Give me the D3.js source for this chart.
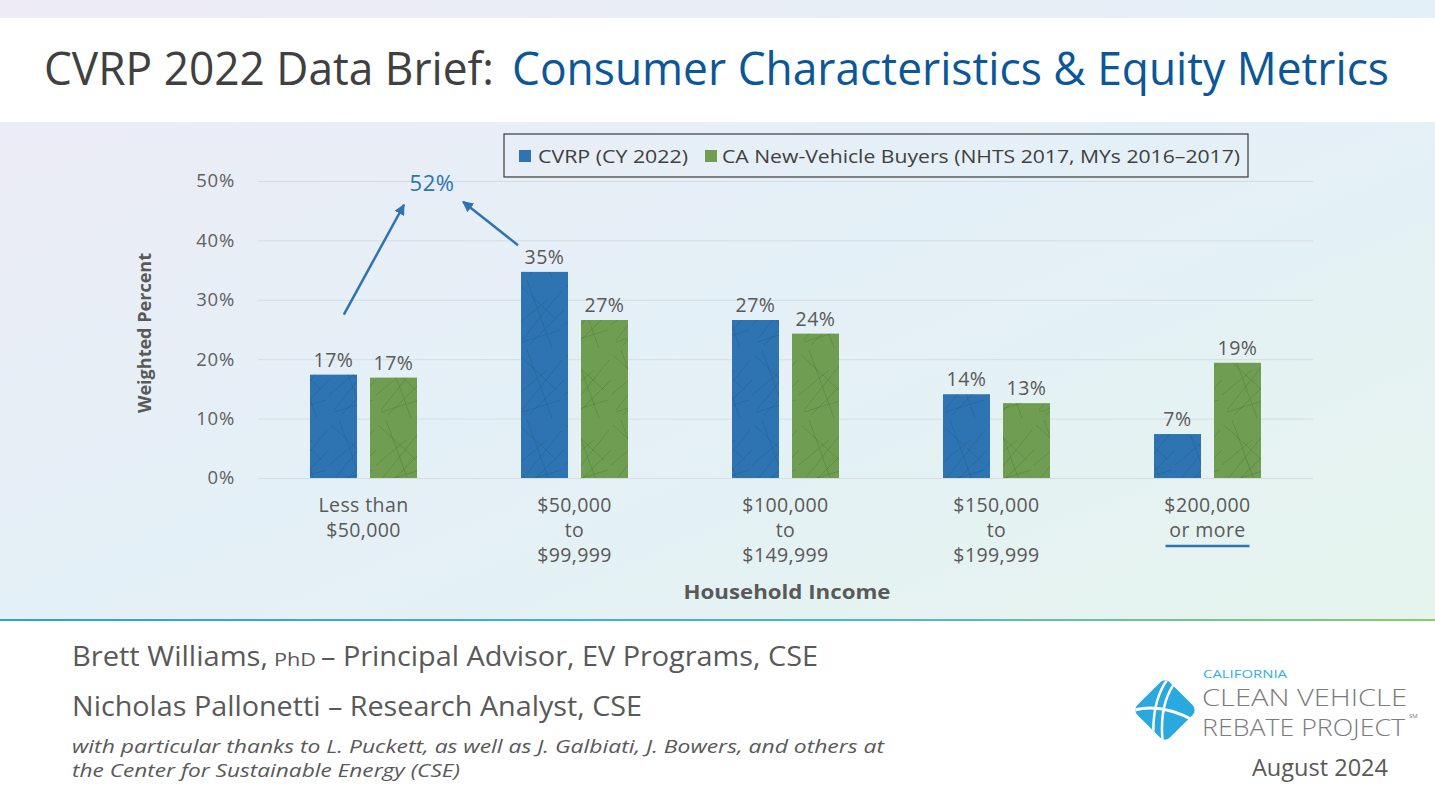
<!DOCTYPE html>
<html><head><meta charset="utf-8">
<script src="https://cdn.jsdelivr.net/npm/d3@7"></script>
<style>html,body{margin:0;padding:0;background:#fff;overflow:hidden}svg{display:block}</style>
</head><body><svg id="c" width="1435" height="806"></svg>
<script>
// ---------- data ----------
const categories = ["Less than\n$50,000", "$50,000\nto\n$99,999", "$100,000\nto\n$149,999", "$150,000\nto\n$199,999", "$200,000\nor more"];
const seriesNames = ["CVRP (CY 2022)", "CA New-Vehicle Buyers (NHTS 2017, MYs 2016–2017)"];
const cvrpValues = [17.4, 34.7, 26.6, 14.1, 7.4];
const nhtsValues = [16.9, 26.6, 24.3, 12.6, 19.4];
const yTickValues = [0, 10, 20, 30, 40, 50];
const titleParts = ["CVRP 2022 Data Brief:", "Consumer Characteristics & Equity Metrics"];
const yAxisTitle = "Weighted Percent";
const xAxisTitle = "Household Income";

// ---------- styles ----------
const colors = ["#2e74b2", "#6f9e53"];
const grey = "#595959";
const font = "'Open Sans', sans-serif";

const svg = d3.select("#c");
const defs = svg.append("defs");

// background gradient
const bg = defs.append("linearGradient").attr("id", "bg").attr("x1", "0").attr("y1", "0").attr("x2", "1").attr("y2", "1");
bg.append("stop").attr("offset", "0").attr("stop-color", "#eeebf6");
bg.append("stop").attr("offset", "0.5").attr("stop-color", "#e4f0f7");
bg.append("stop").attr("offset", "1").attr("stop-color", "#e6f4ee");
const sep = defs.append("linearGradient").attr("id", "sep");
sep.append("stop").attr("offset", "0").attr("stop-color", "#27a2dc");
sep.append("stop").attr("offset", "0.6").attr("stop-color", "#4cb8c8");
sep.append("stop").attr("offset", "1").attr("stop-color", "#8ccb6a");

// texture patterns for bars
["b", "g"].forEach((k, i) => {
  const p = defs.append("pattern").attr("id", "tex" + k).attr("patternUnits", "userSpaceOnUse")
    .attr("width", 47).attr("height", 70);
  const c = i === 0 ? "#1c4f80" : "#3f6b2c";
  [[2, 5, 40, 40], [45, 10, 5, 60], [0, 45, 30, 20], [10, 0, 35, 68], [47, 30, 12, 65], [5, 62, 44, 50]].forEach(l => {
    p.append("line").attr("x1", l[0]).attr("y1", l[1]).attr("x2", l[2]).attr("y2", l[3])
      .attr("stroke", c).attr("stroke-width", 1).attr("opacity", 0.35);
  });
});

// arrow marker
defs.append("marker").attr("id", "arr").attr("markerUnits", "userSpaceOnUse")
  .attr("viewBox", "0 0 10 10").attr("refX", 9).attr("refY", 5)
  .attr("markerWidth", 11).attr("markerHeight", 11).attr("orient", "auto")
  .append("path").attr("d", "M0,0 L10,5 L0,10 Z").attr("fill", colors[0]);

// ---------- background panels ----------
svg.append("rect").attr("x", 0).attr("y", 0).attr("width", 1435).attr("height", 620).attr("fill", "url(#bg)");
svg.append("rect").attr("x", 0).attr("y", 18).attr("width", 1435).attr("height", 104).attr("fill", "#ffffff");
svg.append("rect").attr("x", 0).attr("y", 621).attr("width", 1435).attr("height", 185).attr("fill", "#ffffff");
svg.append("rect").attr("x", 0).attr("y", 619).attr("width", 1435).attr("height", 2).attr("fill", "url(#sep)");

// ---------- title ----------
svg.append("text").attr("x", 44).attr("y", 85).attr("font-family", font).attr("font-size", 45)
  .attr("fill", "#404040").attr("textLength", 450).attr("lengthAdjust", "spacingAndGlyphs").text(titleParts[0]);
svg.append("text").attr("x", 512).attr("y", 85).attr("font-family", font).attr("font-size", 45)
  .attr("fill", "#0b5797").attr("textLength", 877).attr("lengthAdjust", "spacingAndGlyphs").text(titleParts[1]);

// ---------- scales ----------
const x0 = d3.scaleBand().domain(categories).range([258, 1313]).padding(0);
const x1 = d3.scaleBand().domain([0, 1]).range([52, 159]).paddingInner(13 / 60);
const y = d3.scaleLinear().domain([0, 50]).range([478, 181]);

// gridlines
const grid = svg.append("g").attr("transform", "translate(258,0)")
  .call(d3.axisLeft(y).tickValues(yTickValues).tickSize(-(1313 - 258)).tickFormat(""));
grid.select(".domain").remove();
grid.selectAll("line").attr("stroke", "#d5dde3").attr("stroke-width", 1);

// y axis labels
const ya = svg.append("g").attr("transform", "translate(258,0)")
  .call(d3.axisLeft(y).tickValues(yTickValues).tickSize(0).tickPadding(23).tickFormat(d => d + "%"));
ya.select(".domain").remove();
ya.selectAll("text").attr("font-family", font).attr("font-size", 18.5).attr("letter-spacing", 0.8).attr("fill", "#606060");

svg.append("text").attr("transform", "translate(151,333) rotate(-90)").attr("text-anchor", "middle")
  .attr("font-family", font).attr("font-size", 18).attr("font-weight", "bold").attr("fill", grey)
  .attr("textLength", 160).attr("lengthAdjust", "spacingAndGlyphs").text(yAxisTitle);

// ---------- bars ----------
const series = [cvrpValues, nhtsValues];
series.forEach((vals, si) => {
  const g = svg.append("g");
  const items = categories.map((c, i) => ({ c, v: vals[i] }));
  g.selectAll("rect.bar").data(items).join("rect").attr("class", "bar")
    .attr("x", d => x0(d.c) + x1(si)).attr("y", d => y(d.v))
    .attr("width", x1.bandwidth()).attr("height", d => y(0) - y(d.v)).attr("fill", colors[si]);
  g.selectAll("rect.tex").data(items).join("rect").attr("class", "tex")
    .attr("x", d => x0(d.c) + x1(si)).attr("y", d => y(d.v))
    .attr("width", x1.bandwidth()).attr("height", d => y(0) - y(d.v)).attr("fill", "url(#tex" + (si ? "g" : "b") + ")");
  g.selectAll("text").data(items).join("text")
    .attr("x", d => x0(d.c) + x1(si) + x1.bandwidth() / 2).attr("y", d => y(d.v) - 8)
    .attr("text-anchor", "middle").attr("font-family", font).attr("font-size", 19.5).attr("letter-spacing", 0.5)
    .attr("fill", grey).text(d => Math.round(d.v) + "%");
});

// ---------- x category labels ----------
const xl = svg.append("g");
categories.forEach(c => {
  const t = xl.append("text").attr("text-anchor", "middle").attr("font-family", font)
    .attr("font-size", 19.5).attr("letter-spacing", 0.4).attr("fill", grey);
  c.split("\n").forEach((line, li) => {
    t.append("tspan").attr("x", x0(c) + x0.bandwidth() / 2).attr("y", 512 + li * 25).text(line);
  });
});
// underline under last category
const lastC = categories[categories.length - 1];
svg.append("line").attr("x1", x0(lastC) + x0.bandwidth() / 2 - 42).attr("x2", x0(lastC) + x0.bandwidth() / 2 + 42)
  .attr("y1", 546).attr("y2", 546).attr("stroke", colors[0]).attr("stroke-width", 2.5);

svg.append("text").attr("x", 787).attr("y", 599).attr("text-anchor", "middle").attr("font-family", font)
  .attr("font-size", 19).attr("font-weight", "bold").attr("fill", grey)
  .attr("textLength", 207).attr("lengthAdjust", "spacingAndGlyphs").text(xAxisTitle);

// ---------- annotation 52% ----------
const combined = Math.round(cvrpValues[0] + cvrpValues[1]);
const annX = x0(categories[1]) - 37;
svg.append("text").attr("x", annX).attr("y", y(50) + 10).attr("text-anchor", "middle").attr("font-family", font)
  .attr("font-size", 22).attr("letter-spacing", 0.5).attr("fill", colors[0]).text(combined + "%");
svg.append("line")
  .attr("x1", x0(categories[0]) + x1(0) + x1.bandwidth() * 0.72).attr("y1", y(27.5))
  .attr("x2", annX - 28).attr("y2", y(46))
  .attr("stroke", colors[0]).attr("stroke-width", 2.5).attr("marker-end", "url(#arr)");
svg.append("line")
  .attr("x1", x0(categories[1]) + x1(0) - 3).attr("y1", y(39.2))
  .attr("x2", annX + 31).attr("y2", y(46.5))
  .attr("stroke", colors[0]).attr("stroke-width", 2.5).attr("marker-end", "url(#arr)");

// ---------- legend ----------
const lg = svg.append("g");
lg.append("rect").attr("x", 504).attr("y", 134).attr("width", 744).attr("height", 43)
  .attr("fill", "none").attr("stroke", "#3a3a3a").attr("stroke-width", 1.2);
const legX = [519, 705], legTX = [538, 722], legW = [150, 518];
seriesNames.forEach((n, i) => {
  lg.append("rect").attr("x", legX[i]).attr("y", 150).attr("width", 12).attr("height", 12).attr("fill", colors[i]);
  lg.append("text").attr("x", legTX[i]).attr("y", 163).attr("font-family", font).attr("font-size", 19)
    .attr("fill", "#404040").attr("textLength", legW[i]).attr("lengthAdjust", "spacingAndGlyphs").text(n);
});

// ---------- footer ----------
const ft = svg.append("g").attr("font-family", font).attr("fill", grey);
ft.append("text").attr("x", 72).attr("y", 666).attr("font-size", 27).attr("textLength", 196).attr("lengthAdjust", "spacingAndGlyphs").text("Brett Williams,");
ft.append("text").attr("x", 274).attr("y", 666).attr("font-size", 19).attr("textLength", 42).attr("lengthAdjust", "spacingAndGlyphs").text("PhD");
ft.append("text").attr("x", 321).attr("y", 666).attr("font-size", 27).attr("textLength", 497).attr("lengthAdjust", "spacingAndGlyphs").text("– Principal Advisor, EV Programs, CSE");
ft.append("text").attr("x", 72).attr("y", 716).attr("font-size", 27).attr("textLength", 570).attr("lengthAdjust", "spacingAndGlyphs").text("Nicholas Pallonetti – Research Analyst, CSE");
ft.append("text").attr("x", 72).attr("y", 753).attr("font-size", 18.5).attr("font-style", "italic").attr("textLength", 812).attr("lengthAdjust", "spacingAndGlyphs").text("with particular thanks to L. Puckett, as well as J. Galbiati, J. Bowers, and others at");
ft.append("text").attr("x", 72).attr("y", 777).attr("font-size", 18.5).attr("font-style", "italic").attr("textLength", 388).attr("lengthAdjust", "spacingAndGlyphs").text("the Center for Sustainable Energy (CSE)");

// ---------- logo ----------
const logo = svg.append("g");
const clip = defs.append("clipPath").attr("id", "dclip");
clip.append("rect").attr("x", -23).attr("y", -23).attr("width", 46).attr("height", 46).attr("rx", 7)
  .attr("transform", "translate(1165,710) rotate(45)");
logo.append("rect").attr("x", -23).attr("y", -23).attr("width", 46).attr("height", 46).attr("rx", 7)
  .attr("transform", "translate(1165,710) rotate(45)").attr("fill", "#2aa8e0");
const lw = logo.append("g").attr("clip-path", "url(#dclip)").attr("fill", "none").attr("stroke", "#fff");
lw.append("path").attr("d", "M1170,676 Q1150,700 1154,745").attr("stroke-width", 2.5);
lw.append("path").attr("d", "M1177,680 Q1158,703 1163,745").attr("stroke-width", 2.5);
lw.append("path").attr("d", "M1128,712 Q1160,700 1200,724").attr("stroke-width", 3);
logo.append("text").attr("x", 1203).attr("y", 678).attr("font-family", font).attr("font-size", 11)
  .attr("fill", "#33ade2").attr("textLength", 84).attr("lengthAdjust", "spacingAndGlyphs").text("CALIFORNIA");
logo.append("text").attr("x", 1202).attr("y", 706).attr("font-family", font).attr("font-size", 24).attr("font-weight", 300)
  .attr("fill", "#7b7b7b").attr("textLength", 205).attr("lengthAdjust", "spacingAndGlyphs").text("CLEAN VEHICLE");
logo.append("text").attr("x", 1202).attr("y", 736).attr("font-family", font).attr("font-size", 24).attr("font-weight", 300)
  .attr("fill", "#7b7b7b").attr("textLength", 203).attr("lengthAdjust", "spacingAndGlyphs").text("REBATE PROJECT");
logo.append("text").attr("x", 1409).attr("y", 718).attr("font-family", font).attr("font-size", 6)
  .attr("fill", "#7b7b7b").text("SM");
svg.append("text").attr("x", 1252).attr("y", 776).attr("font-family", font).attr("font-size", 24)
  .attr("fill", grey).attr("textLength", 136).attr("lengthAdjust", "spacingAndGlyphs").text("August 2024");
</script></body></html>
